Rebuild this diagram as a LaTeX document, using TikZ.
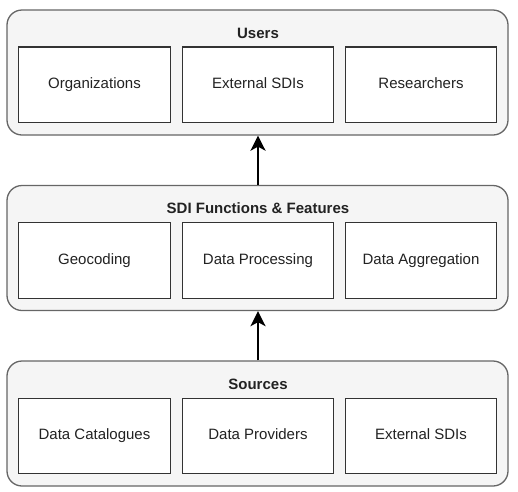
\documentclass[tikz,border=0pt]{standalone}
\usepackage{fontspec}
\setmainfont{Liberation Sans}
\usetikzlibrary{arrows.meta}
\definecolor{outerfill}{HTML}{F5F5F5}
\definecolor{outerline}{HTML}{666666}
\definecolor{innerline}{HTML}{333333}
\definecolor{txt}{HTML}{222222}
\begin{document}
\begin{tikzpicture}[x=1pt,y=-1pt,
  outerbox/.style={draw=outerline,fill=outerfill,line width=1.3pt,rounded corners=15pt,minimum width=501pt,minimum height=125pt,inner sep=0pt},
  innerbox/.style={draw=innerline,fill=white,line width=1.4pt,minimum width=151.5pt,minimum height=75.5pt,inner sep=0pt,text=txt,text height=11pt,text depth=3.2pt,font=\fontsize{15}{18}\selectfont},
  titletext/.style={text=txt,font=\fontsize{15}{18}\selectfont\bfseries,inner sep=0pt,text height=11pt,text depth=3.2pt},
  uparrow/.style={draw=black,line width=2.5pt,-{Stealth[length=15pt,width=15pt,inset=4pt]}}
]
\useasboundingbox (0,0) rectangle (518,491);
% outer containers
\node[outerbox] (users) at (257.5,72.5) {};
\node[outerbox] (sdi) at (257.5,248) {};
\node[outerbox] (sources) at (257.5,423.5) {};
% titles
\node[titletext] (usersT) at (258,34.3) {Users};
\node[titletext] (sdiT) at (258,209.8) {SDI Functions \& Features};
\node[titletext] (sourcesT) at (258,385.3) {Sources};
% users row
\node[innerbox] (org) at (94.5,84.8) {Organizations};
\node[innerbox] (ext1) at (258,84.8) {External SDIs};
\node[innerbox] (res) at (421,84.8) {Researchers};
% SDI row
\node[innerbox] (geo) at (94.5,260.5) {Geocoding};
\node[innerbox] (proc) at (258,260.5) {Data Processing};
\node[innerbox] (agg) at (421,260.5) {Data Aggregation};
% sources row
\node[innerbox] (cat) at (94.5,436) {Data Catalogues};
\node[innerbox] (prov) at (258,436) {Data Providers};
\node[innerbox] (ext2) at (421,436) {External SDIs};
% arrows
\draw[uparrow] (sdi.north -| ext1.south) -- (users.south -| ext1.south);
\draw[uparrow] (sources.north -| proc.south) -- (sdi.south -| proc.south);
\end{tikzpicture}
\end{document}
